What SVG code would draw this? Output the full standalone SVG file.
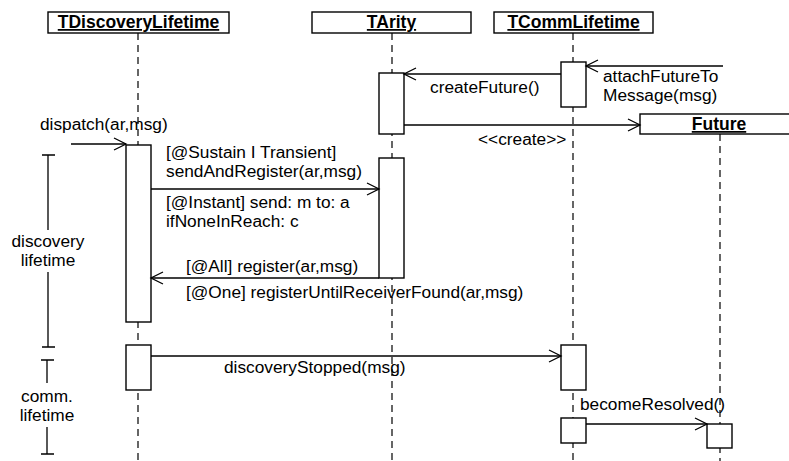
<svg xmlns="http://www.w3.org/2000/svg" width="789" height="461" viewBox="0 0 789 461">
<style>
text{font-family:"Liberation Sans",Arial,sans-serif;font-size:17.3px;fill:#000}
.title{font-weight:bold;text-decoration:underline;text-anchor:middle;font-size:17.5px}
.box{fill:#fff;stroke:#000;stroke-width:1.4}
.life{stroke:#000;stroke-width:1.2;stroke-dasharray:7,5;fill:none}
.msg{stroke:#000;stroke-width:1.3;fill:none}
.head{stroke:#000;stroke-width:1.3;fill:none}
.br{stroke:#000;stroke-width:1.3;fill:none}
.mid{text-anchor:middle}
</style>
<rect width="789" height="461" fill="#fff"/>
<g id="lifelines">
<line class="life" x1="138" y1="33" x2="138" y2="461"/>
<line class="life" x1="392" y1="33" x2="392" y2="461"/>
<line class="life" x1="573" y1="33" x2="573" y2="461"/>
<line class="life" x1="720" y1="134" x2="720" y2="461"/>
</g>
<g id="TDiscoveryLifetime">
<rect class="box" x="48" y="12" width="181" height="21"/>
<text class="title" x="138.5" y="28">TDiscoveryLifetime</text>
<rect class="box" x="126" y="145" width="25" height="177"/>
<rect class="box" x="126" y="345" width="25" height="45"/>
</g>
<g id="TArity">
<rect class="box" x="312" y="12" width="159" height="21"/>
<text class="title" x="391.5" y="28">TArity</text>
<rect class="box" x="379" y="73" width="25" height="61"/>
<rect class="box" x="379" y="158" width="25" height="120"/>
</g>
<g id="TCommLifetime">
<rect class="box" x="494" y="12" width="159" height="21"/>
<text class="title" x="573.5" y="28">TCommLifetime</text>
<rect class="box" x="561" y="62" width="25" height="45"/>
<rect class="box" x="561" y="345" width="25" height="45"/>
<rect class="box" x="561" y="418" width="25" height="25"/>
</g>
<g id="Future">
<rect class="box" x="640" y="114" width="160" height="20"/>
<text class="title" x="719" y="130">Future</text>
<rect class="box" x="707" y="424" width="25" height="24"/>
</g>
<g id="connectors">
<line class="msg" x1="723" y1="66" x2="586" y2="66"/>
<path class="head" d="M598,60 L586,66 L598,72"/>
<line class="msg" x1="561" y1="74" x2="404" y2="74"/>
<path class="head" d="M416,68 L404,74 L416,80"/>
<line class="msg" x1="404" y1="125" x2="640" y2="125"/>
<path class="head" d="M628,119 L640,125 L628,131"/>
<line class="msg" x1="71" y1="144" x2="126" y2="144"/>
<path class="head" d="M114,138 L126,144 L114,150"/>
<line class="msg" x1="151" y1="189" x2="379" y2="189"/>
<path class="head" d="M367,183 L379,189 L367,195"/>
<line class="msg" x1="379" y1="278" x2="151" y2="278"/>
<path class="head" d="M163,272 L151,278 L163,284"/>
<line class="msg" x1="151" y1="356" x2="561" y2="356"/>
<path class="head" d="M549,350 L561,356 L549,362"/>
<line class="msg" x1="586" y1="424" x2="707" y2="424"/>
<path class="head" d="M695,418 L707,424 L695,430"/>
</g>
<g id="labels">
<text x="603" y="81.5">attachFutureTo<tspan x="603" y="101">Message(msg)</tspan></text>
<text x="430" y="93">createFuture()</text>
<text x="478" y="145">&lt;&lt;create&gt;&gt;</text>
<text x="40" y="130">dispatch(ar,msg)</text>
<text x="166" y="158">[@Sustain I Transient]<tspan x="166" y="177">sendAndRegister(ar,msg)</tspan></text>
<text x="166" y="208">[@Instant] send: m to: a<tspan x="166" y="227">ifNoneInReach: c</tspan></text>
<text x="186" y="272">[@All] register(ar,msg)</text>
<text x="186" y="298">[@One] registerUntilReceiverFound(ar,msg)</text>
<text x="224" y="373">discoveryStopped(msg)</text>
<text x="580" y="410">becomeResolved()</text>
</g>
<g id="discovery-lifetime">
<path class="br" d="M42,155 H55 M48,155 V230 M48,272 V347 M42,347 H55"/>
<text class="mid" x="48" y="247">discovery<tspan x="48" y="266">lifetime</tspan></text>
</g>
<g id="comm-lifetime">
<path class="br" d="M41,360 H54 M47,360 V383 M47,427 V454 M41,454 H54"/>
<text class="mid" x="47" y="402">comm.<tspan x="47" y="421">lifetime</tspan></text>
</g>
</svg>
